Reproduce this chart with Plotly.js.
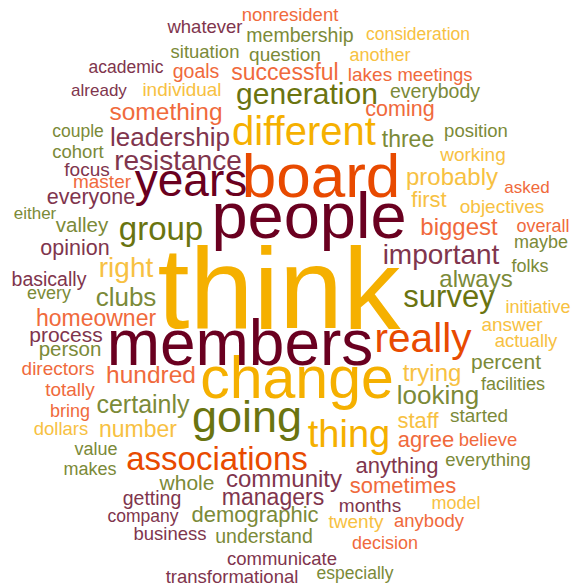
<!DOCTYPE html>
<html>
<head>
<meta charset="utf-8">
<script src="https://cdn.plot.ly/plotly-3.0.1.min.js"></script>
<style>html,body{margin:0;padding:0;background:#fff;}#chart{width:574px;height:588px;}</style>
</head>
<body>
<div id="chart"></div>
<script>
// Word cloud data: word, weight (font size), x centre, baseline, colour group
const words = ["think","people","members","board","change","years","different","going","associations","really","thing","group","generation","survey","leadership","resistance","something","successful","important","community","managers","demographic","certainly","clubs","right","hundred","number","looking","trying","probably","first","biggest","always","three","coming","staff","agree","anything","sometimes","months","twenty","model","anybody","decision","especially","communicate","transformational","understand","business","company","getting","whole","makes","value","dollars","bring","totally","directors","person","process","homeowner","every","basically","opinion","valley","either","everyone","master","focus","cohort","couple","already","individual","academic","goals","situation","whatever","nonresident","membership","question","consideration","another","lakes","meetings","everybody","position","working","asked","objectives","overall","maybe","folks","initiative","answer","actually","percent","facilities","started","believe","everything"];
const weights = [115,65,64,62,59,46,40,45,33,40.5,38,33,30,31,26,28,24.5,23,28,24,23,22,25,26,28,24.5,23,26,24,24,22,24,24,23,21.5,22,22,22,22,19,19,18,18.5,18,17.5,18.5,18.5,19.5,18.5,17.5,19.5,21,18,18,18.5,18,19,19,20.5,21,23,18,19.5,21.5,20.5,17,21.5,19,19,18.5,17.5,17,19,17.5,19.5,18.5,18.5,18.5,19.5,19,17.5,18,19,18.5,19.5,18.5,19,17,19,18,18,18,18,19,18.5,21,18,19,18.5,18.5];
const xPos = [279,309,240,321,297,191,304,247,217,423,349,161,307,449,170,178,166,285,441,284,273,255,143,126,126,151,138,438,432,452,429,459,476,408,400,418,426,397,403,370,356,456,429,385,355,282,232,264,170,143,152,187,90,96,61,70,70,58,70,66,96,49,49,75,82,35,91,102,87,78,78,99,182,126,196,205,205,290,300,285,418,380,370,435,435,476,473,527,502,543,541,530,538,512,526,506,513,479,488,488];
const baselines = [328,238,365,197,398,196,145,432,470,352,447,240,104,307,146,170,120,80,264,487,505,522,413,306,277,383,437,404,381,185,207,235,287,147,116,428,447,473,493,512,528,509,527,549,579,565,583,543,540,522,505,490,475,455,435,417,396,375,356,342,326,299,286,255,232,219,204,188,176,158,137,96,96,73,78,58,33,21,42,61,40,61,81,81,98,137,161,193,213,232,248,272,313,331,347,369,390,422,446,466];
const groups = ["gold","maroon","maroon","orange","gold","maroon","gold","olive","orange","orange","gold","olive","olive","olive","plum","plum","salmon","salmon","plum","plum","plum","oliveL","oliveL","oliveL","lgold","salmon","lgold","oliveL","lgold","lgold","lgold","salmon","oliveL","oliveL","salmon","lgold","salmon","plum","salmon","plum","lgold","lgold","salmon","salmon","oliveL","plum","plum","oliveL","plum","plum","plum","oliveL","oliveL","oliveL","lgold","salmon","salmon","salmon","oliveL","plum","salmon","oliveL","plum","plum","oliveL","oliveL","plum","salmon","plum","oliveL","oliveL","plum","lgold","plum","salmon","oliveL","plum","salmon","oliveL","oliveL","lgold","lgold","salmon","salmon","oliveL","oliveL","lgold","salmon","lgold","salmon","oliveL","oliveL","lgold","lgold","lgold","oliveL","oliveL","oliveL","salmon","oliveL"];
const palette = {gold:"#f5b000", maroon:"#6a0020", orange:"#e84a00", olive:"#6a7410", plum:"#80354d", oliveL:"#7b8a38", salmon:"#f06a3c", lgold:"#f7c142"};

const yPos = baselines.map((b, i) => b - 0.25 * weights[i]);

const trace = {
  type: "scatter",
  mode: "text",
  x: xPos,
  y: yPos,
  text: words,
  textposition: "middle center",
  textfont: {
    family: "Liberation Sans, Arial, Helvetica, sans-serif",
    size: weights,
    color: groups.map(g => palette[g])
  },
  hoverinfo: "none",
  cliponaxis: false
};

const layout = {
  width: 574, height: 588,
  margin: {l: 0, r: 0, t: 0, b: 0},
  paper_bgcolor: "#ffffff", plot_bgcolor: "#ffffff",
  showlegend: false,
  xaxis: {range: [0, 574], visible: false, fixedrange: true},
  yaxis: {range: [588, 0], visible: false, fixedrange: true},
  hovermode: false
};

Plotly.newPlot("chart", [trace], layout, {displayModeBar: false, staticPlot: true});
</script>
</body>
</html>
